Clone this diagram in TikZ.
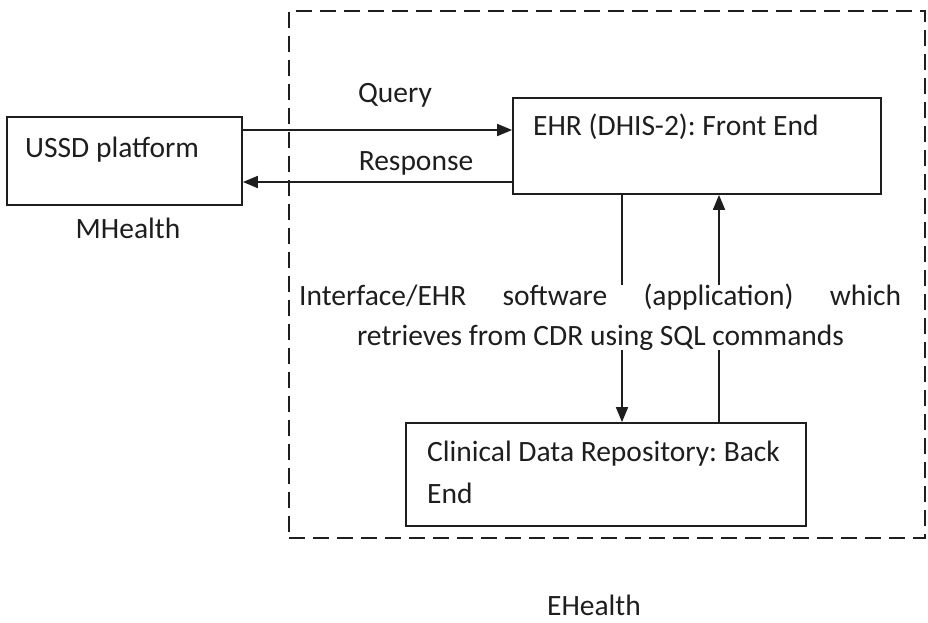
\documentclass[tikz,border=0pt]{standalone}
\usepackage{fontspec}
\setmainfont{Carlito}
\frenchspacing
\usetikzlibrary{arrows.meta}
\definecolor{ink}{HTML}{1E1E1E}
\begin{document}
\begin{tikzpicture}[x=1pt,y=-1pt,
  box/.style={draw=ink,line width=1.8pt,inner sep=0pt},
  txt/.style={inner sep=0pt,anchor=base west,text=ink,font=\fontsize{29.5}{41}\selectfont},
  ctxt/.style={inner sep=0pt,anchor=base,text=ink,font=\fontsize{29.5}{41}\selectfont},
  arr/.style={draw=ink,line width=1.8pt,-{Triangle[length=15pt,width=12pt]}},
  ln/.style={draw=ink,line width=1.8pt}]
\useasboundingbox (0,0) rectangle (928,622);
% EHealth dashed region
\node[box,dash pattern=on 16pt off 8pt,minimum width=636pt,minimum height=527pt] (eh) at (607,274.5) {};
% boxes
\node[box,minimum width=235pt,minimum height=88pt] (ussd) at (124.5,161) {};
\node[box,minimum width=368pt,minimum height=96pt] (ehr) at (697,146) {};
\node[box,minimum width=400pt,minimum height=103pt] (cdr) at (606,474.5) {};
% texts
\node[txt] (tussd) at (25,157) {USSD platform};
\node[ctxt] (mh) at (128,238) {MHealth};
\node[txt] (tehr) at (533,135) {EHR (DHIS-2): Front End};
\node[txt] (tcdr1) at (427,461) {Clinical Data Repository: Back};
\node[txt] (tcdr2) at (427,503) {End};
\node[ctxt] (query) at (395,102) {Query};
\node[ctxt] (resp) at (416,170) {Response};
\node[txt] (if1) at (299,305) {\makebox[602pt][l]{Interface/EHR\hfill software\hfill (application)\hfill which}};
\node[ctxt] (if2) at (600.5,345) {retrieves from CDR using SQL commands};
\node[ctxt] (ehl) at (594,615) {EHealth};
% connectors
\coordinate (q) at (0,130);
\coordinate (r) at (0,182);
\draw[arr] (ussd.east |- q) -- (ehr.west |- q);
\draw[arr] (ehr.west |- r) -- (ussd.east |- r);
\coordinate (d1) at (622,285);
\coordinate (d2) at (622,350);
\coordinate (u1) at (719,285);
\coordinate (u2) at (719,350);
\draw[ln] (d1 |- ehr.south) -- (d1);
\draw[arr] (d2) -- (d2 |- cdr.north);
\draw[ln] (u2 |- cdr.north) -- (u2);
\draw[arr] (u1) -- (u1 |- ehr.south);
\end{tikzpicture}
\end{document}
